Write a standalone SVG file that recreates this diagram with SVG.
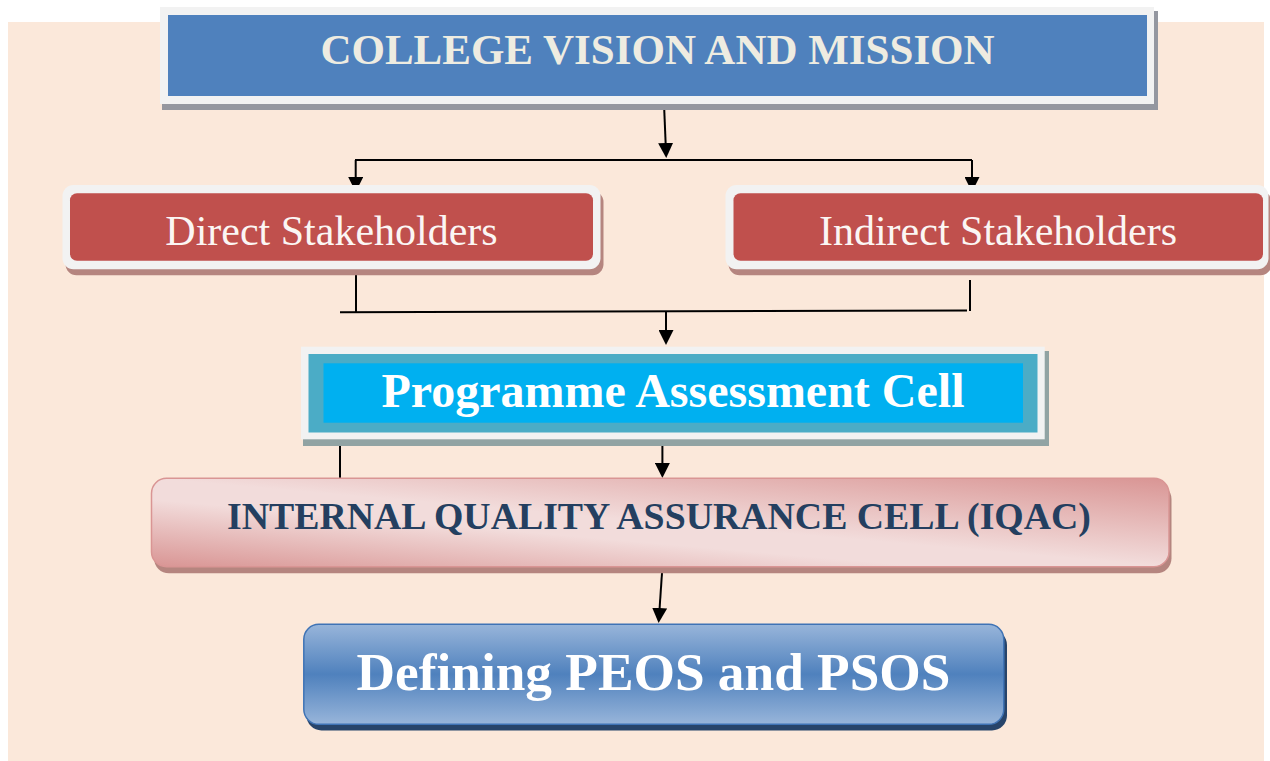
<svg xmlns="http://www.w3.org/2000/svg" width="1270" height="761" viewBox="0 0 1270 761">
<defs>
<style>
.t{font-family:"Liberation Serif","Times New Roman",serif;text-anchor:middle}
.b{font-weight:bold}
.ln{stroke:#000;stroke-width:2;fill:none}
.arw{stroke:#000;stroke-width:2;fill:none;marker-end:url(#ah)}
.frame{fill:#f2f2f2}
.redsh{fill:#b5857f}
.red{fill:#c0504d}
</style>
<marker id="ah" markerUnits="userSpaceOnUse" markerWidth="15" markerHeight="15" refX="9" refY="7.5" orient="auto" viewBox="0 0 15 15">
<path d="M0,0 L15,7.5 L0,15 z" fill="#000"/>
</marker>
<linearGradient id="gIqac" x1="1" y1="0" x2="0" y2="1">
<stop offset="0" stop-color="#d99594"/>
<stop offset="0.5" stop-color="#f2dcdb"/>
<stop offset="0.62" stop-color="#f2dcdb"/>
<stop offset="1" stop-color="#d99594"/>
</linearGradient>
<linearGradient id="gDef" x1="0" y1="0" x2="0" y2="1">
<stop offset="0" stop-color="#98b5da"/>
<stop offset="0.5" stop-color="#4f81bd"/>
<stop offset="1" stop-color="#98b5da"/>
</linearGradient>
</defs>
<rect x="8" y="22" width="1256" height="739" fill="#fbe8da"/>
<g id="connectors">
<line class="arw" x1="664" y1="104" x2="666" y2="152"/>
<line class="ln" x1="355" y1="160" x2="972" y2="160"/>
<line class="arw" x1="355.7" y1="160" x2="355.7" y2="186"/>
<line class="arw" x1="972" y1="160" x2="972" y2="186"/>
<line class="ln" x1="356" y1="270" x2="356" y2="312"/>
<line class="ln" x1="970" y1="280" x2="970" y2="311"/>
<line class="ln" x1="340" y1="312.3" x2="967" y2="310.5"/>
<line class="arw" x1="666" y1="312" x2="666" y2="339"/>
<line class="ln" x1="340" y1="443" x2="340" y2="479"/>
<line class="arw" x1="662.4" y1="440" x2="662.4" y2="472"/>
<line class="arw" x1="662.4" y1="567" x2="659" y2="617"/>
</g>
<g id="vision">
<rect x="162" y="11" width="996" height="99" fill="#9497a0"/>
<rect class="frame" x="160" y="7" width="994" height="97"/>
<rect x="168" y="15" width="979" height="81" fill="#4f81bd"/>
<text class="t b" x="657.5" y="64" font-size="43" fill="#eeece1">COLLEGE VISION AND MISSION</text>
</g>
<g id="direct">
<rect class="redsh" x="65.5" y="191" width="538" height="84.3" rx="11"/>
<rect class="frame" x="62.5" y="185" width="538" height="84.3" rx="11"/>
<rect class="red" x="70" y="193.3" width="523" height="67.4" rx="7"/>
<text class="t" x="331.5" y="245" font-size="42" fill="#fbf6f4">Direct Stakeholders</text>
</g>
<g id="indirect">
<rect class="redsh" x="728.5" y="191" width="543" height="84.3" rx="11"/>
<rect class="frame" x="725.5" y="185" width="543" height="84.3" rx="11"/>
<rect class="red" x="733.5" y="193.3" width="529.5" height="67.4" rx="7"/>
<text class="t" x="998" y="245" font-size="42" fill="#fbf6f4">Indirect Stakeholders</text>
</g>
<g id="pac">
<rect x="303" y="351" width="746" height="95" fill="#91a3a3"/>
<rect class="frame" x="301" y="346.7" width="743.7" height="92.6"/>
<rect x="308.5" y="354" width="729" height="78.5" fill="#4bacc6"/>
<rect x="323.5" y="363.3" width="699.5" height="59.4" fill="#00b0f0"/>
<text class="t b" x="673" y="407.3" font-size="48" fill="#ffffff">Programme Assessment Cell</text>
</g>
<g id="iqac">
<rect class="redsh" x="154" y="484" width="1017.5" height="89.3" rx="15"/>
<rect x="151.5" y="478.3" width="1017.5" height="88.4" rx="15" fill="url(#gIqac)" stroke="#d99594" stroke-width="1.5"/>
<text class="t b" x="659" y="529.3" font-size="37.8" fill="#243f60">INTERNAL QUALITY ASSURANCE CELL (IQAC)</text>
</g>
<g id="defining">
<rect x="306.5" y="630" width="700.5" height="100.5" rx="15" fill="#27446a"/>
<rect x="303.8" y="624.3" width="700" height="100" rx="15" fill="url(#gDef)" stroke="#3f73b5" stroke-width="1.5"/>
<text class="t b" x="653.5" y="690" font-size="53.3" fill="#ffffff">Defining PEOS and PSOS</text>
</g>
</svg>
